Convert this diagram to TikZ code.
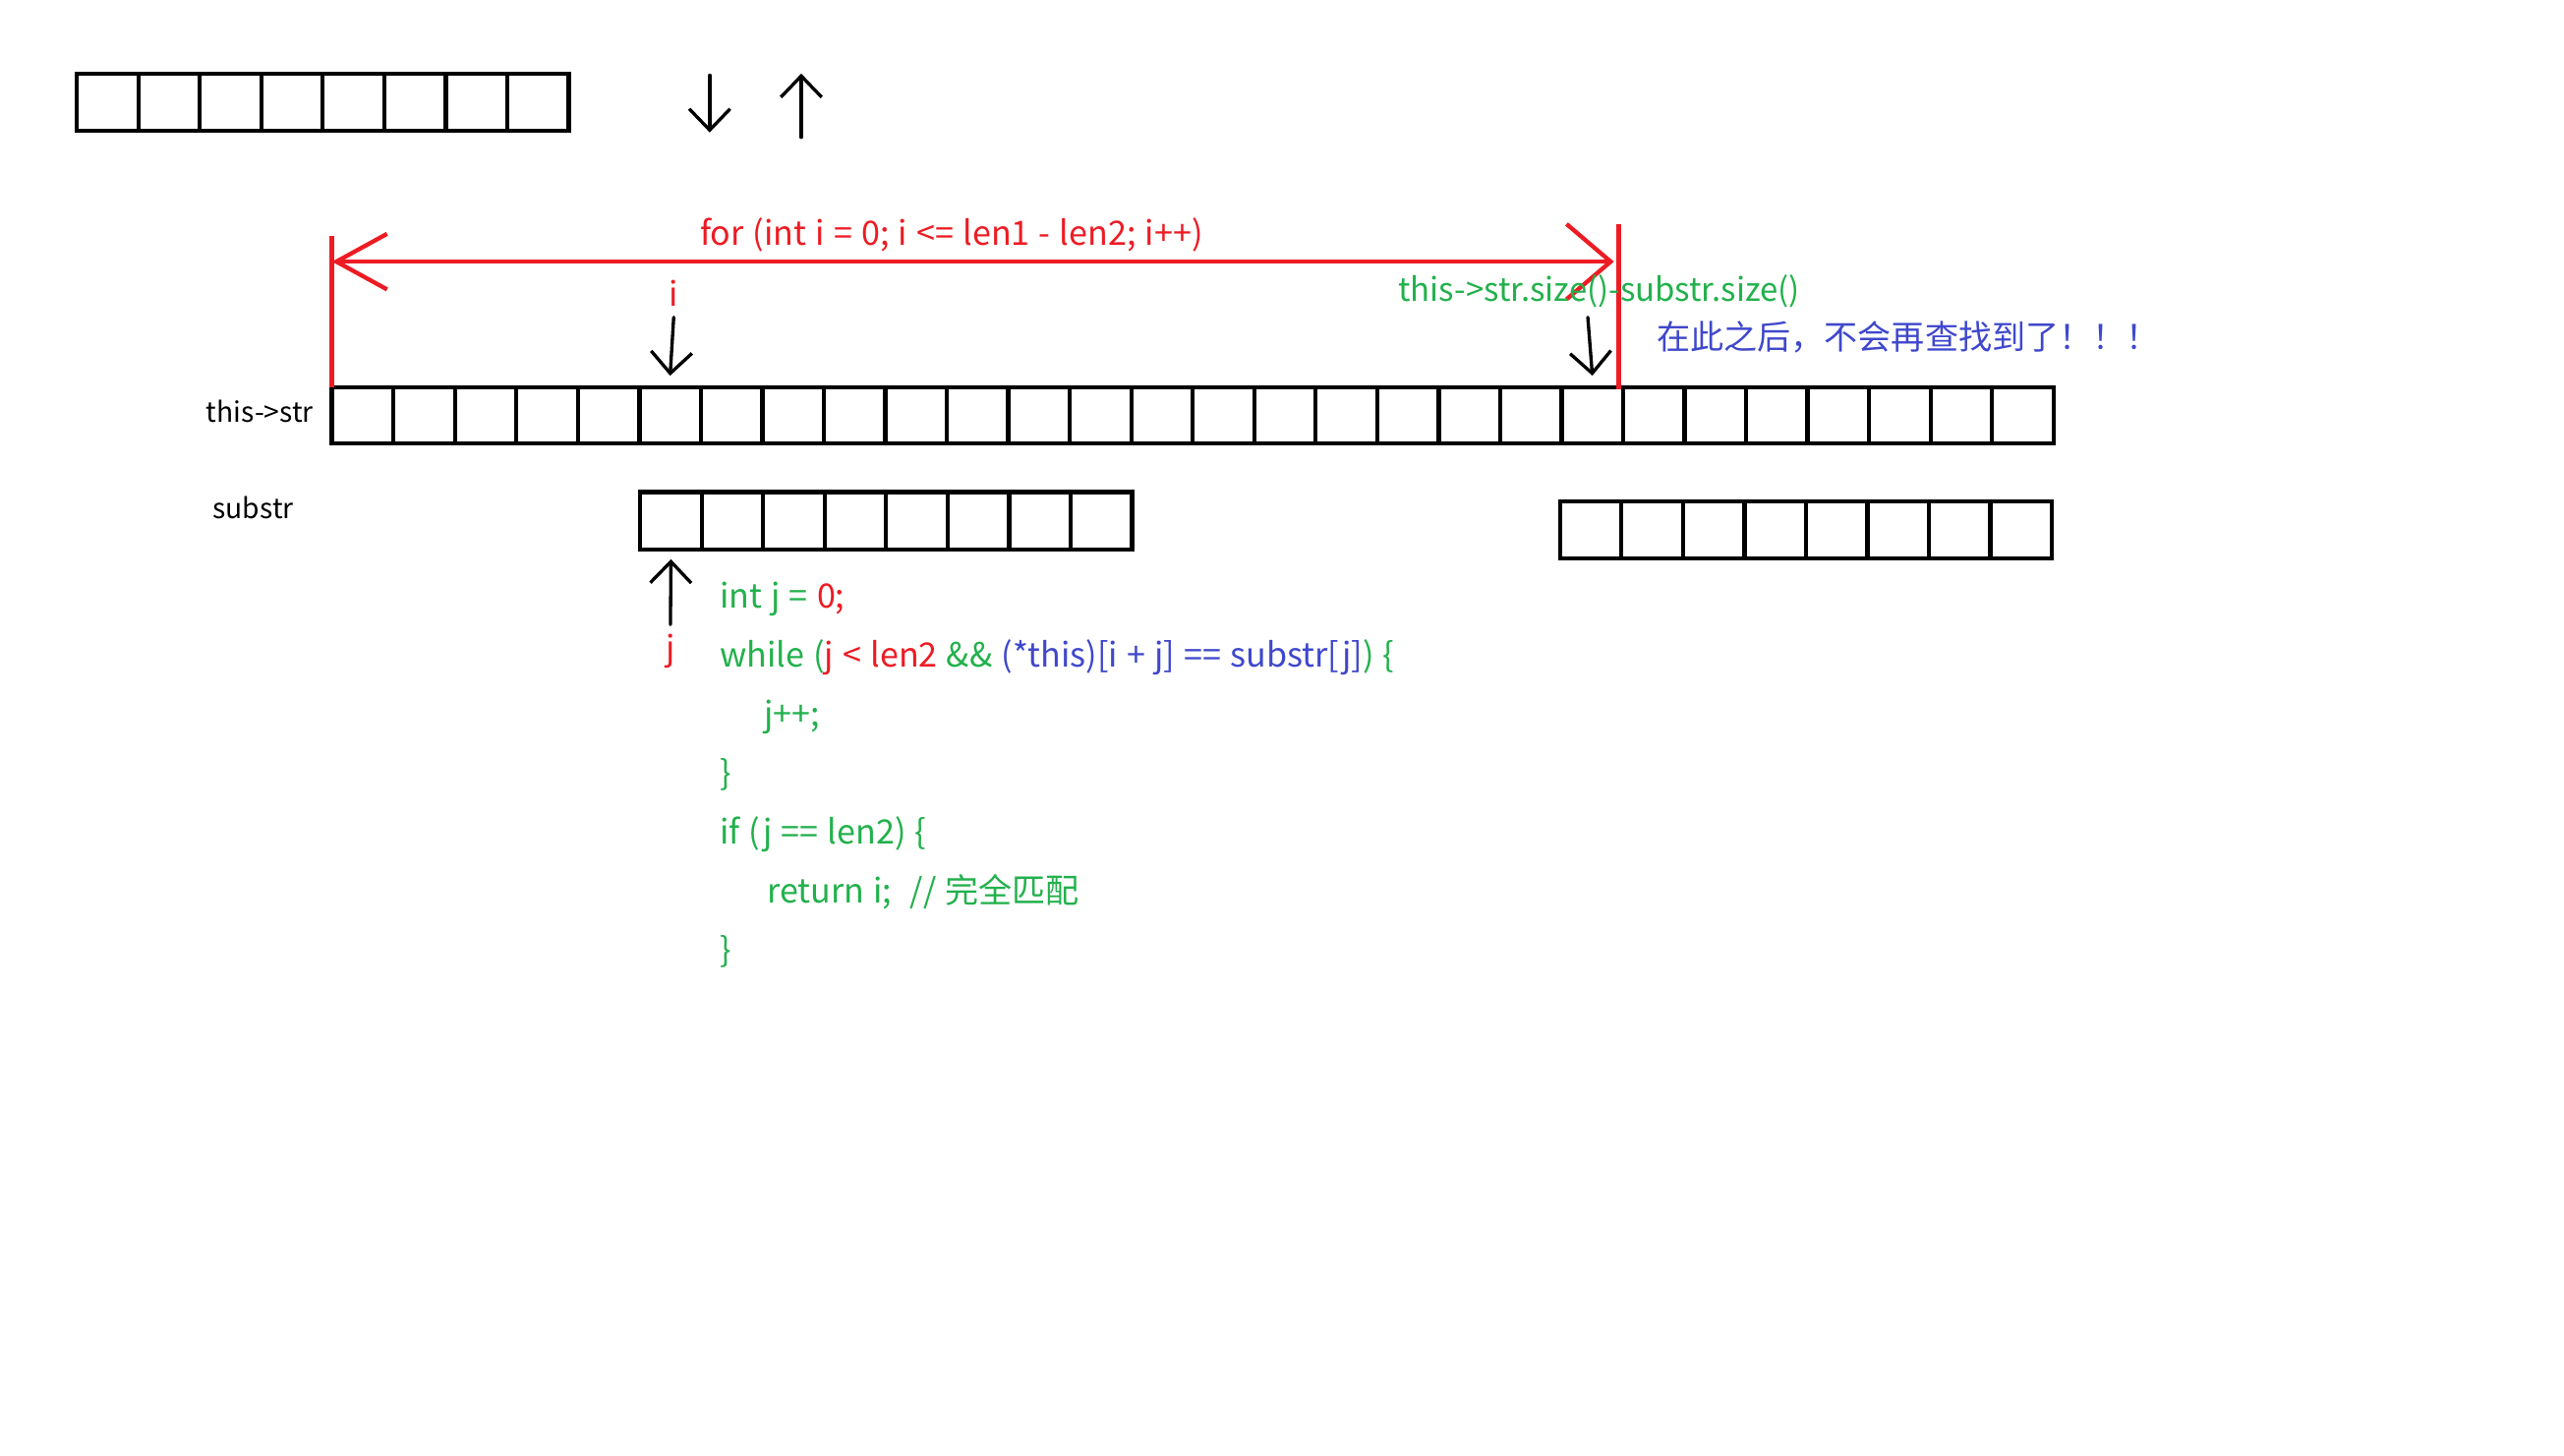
\documentclass[tikz,border=0pt]{standalone}
\usepackage{fontspec}
\setmainfont{Noto Sans CJK SC}
\newfontfamily\codefont[WordSpace=1.2]{Noto Sans CJK SC}
\usetikzlibrary{arrows.meta}
\definecolor{pred}{RGB}{237,28,36}
\definecolor{pgreen}{RGB}{34,177,76}
\definecolor{pblue}{RGB}{63,72,204}
\tikzset{
  cell/.style={draw, line width=2.6pt, minimum width=37.6pt, minimum height=34.5pt, inner sep=0pt, outer sep=0pt},
  ptr/.style={draw, line width=2pt, line cap=round, -{Straight Barb[length=13pt,width=25pt]}},
  redarr/.style={draw=pred, line width=2.6pt, {Straight Barb[length=31pt,width=34pt]}-{Straight Barb[length=27pt,width=46pt]}},
  redline/.style={draw=pred, line width=2.6pt},
  code/.style={anchor=base west, inner sep=0pt, font=\codefont\fontsize{20.5}{24}\selectfont},
  lbl/.style={anchor=base west, inner sep=0pt, font=\fontsize{17}{20}\selectfont},
}
\begin{document}
\begin{tikzpicture}[x=1pt,y=-1pt]
\path[use as bounding box, fill=white] (0,0) rectangle (1568,890);
% top array
\foreach \k in {0,...,7} \node[cell, minimum height=35pt] (t\k) at ({47+18.8+37.6*\k},62.5) {};
% top arrows
\coordinate (dtop) at (434,46);
\coordinate (dbot) at (434,81);
\draw[ptr] (dtop) -- (dbot);
\coordinate (ubot) at (490,84);
\coordinate (utop) at (490,45);
\draw[ptr] (ubot) -- (utop);
% main array
\foreach \k in {0,...,27} \node[cell] (s\k) at ({203+18.8+37.6*\k},254) {};
% substr arrays
\foreach \k in {0,...,7} \node[cell, minimum height=35pt] (a\k) at ({391.5+18.8+37.6*\k},318.5) {};
\foreach \k in {0,...,7} \node[cell, minimum height=35pt] (b\k) at ({954+18.8+37.6*\k},324) {};
% labels
\node[lbl] (lstr) at (126,258.5) {this->str};
\node[lbl] (lsub) at (130,317) {substr};
% red loop arrow
\coordinate (fl) at (203,160);
\coordinate (fr) at (987,160);
\coordinate (flt) at (203,144);
\coordinate (frt) at (990,137);
\coordinate (frb) at (990,238);
\draw[redline] (flt) -- (s0.north west);
\draw[redline] (frt) -- (frb);
\draw[redarr] (fl) -- (fr);
\node[code, text=pred] (fortxt) at (428,150) {for (int i = 0; i <= len1 - len2; i++)};
% i pointer
\node[code, text=pred, anchor=base] (ilbl) at (412,187) {i};
\coordinate (itail) at (412,194);
\draw[ptr] (itail) -- ([yshift=7pt]s5.north);
% end pointer
\coordinate (etail) at (971,194);
\draw[ptr] (etail) -- ([yshift=7pt]s20.north);
\node[code, text=pgreen, font=\fontsize{19.8}{24}\selectfont] (sizetxt) at (855,184) {this->str.size()-substr.size()};
\node[code, text=pblue] (note) at (1013,214) {在此之后，不会再查找到了！！！};
% j pointer
\coordinate (jtail) at (410,382);
\draw[ptr] (jtail) -- ([yshift=-6pt]a0.south);
\node[code, text=pred, anchor=base] (jlbl) at (410,404) {j};
% code
\node[code] (c1) at (440,372) {\textcolor{pgreen}{int j =} \textcolor{pred}{0;}};
\node[code] (c2) at (440,408) {\textcolor{pgreen}{while (}\textcolor{pred}{j < len2} \textcolor{pgreen}{\&\&} \textcolor{pblue}{(*this)[i + j] == substr[j]}\textcolor{pgreen}{) \{}};
\node[code, text=pgreen] (c3) at (467,444) {j++;};
\node[code, text=pgreen] (c4) at (440,480) {\}};
\node[code, text=pgreen] (c5) at (440,516) {if (j == len2) \{};
\node[code, text=pgreen] (c6) at (469,552) {return i;\ \ // 完全匹配};
\node[code, text=pgreen] (c7) at (440,588) {\}};
\end{tikzpicture}
\end{document}
